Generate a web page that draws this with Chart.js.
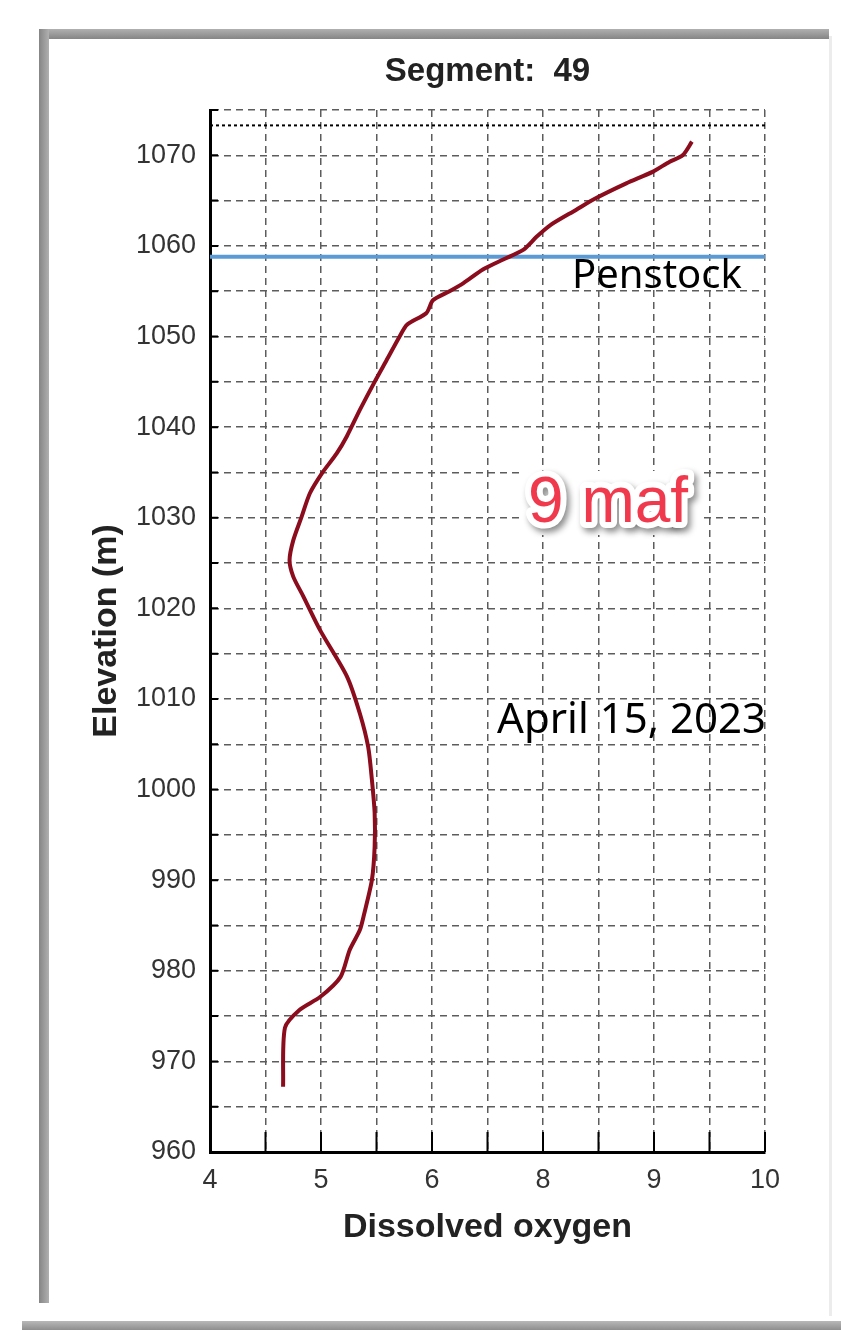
<!DOCTYPE html>
<html>
<head>
<meta charset="utf-8">
<title>Segment 49 - Dissolved oxygen profile</title>
<script src="https://cdn.jsdelivr.net/npm/chart.js@4.4.0/dist/chart.umd.min.js"></script>
<style>
  body { margin: 0; background: #fff; }
  #page { position: relative; width: 841px; height: 1330px; overflow: hidden; background: #fff; }
  .bar { position: absolute; }
  #frameTop { left: 39px; top: 29px; width: 790px; height: 10px; background: linear-gradient(#b0b0b0, #858585); }
  #frameLeft { left: 39px; top: 29px; width: 10px; height: 1274px; background: linear-gradient(90deg, #858585, #b0b0b0); }
  #frameBottom { left: 22px; top: 1321px; width: 819px; height: 9px; background: linear-gradient(#b8b8b8, #8e8e8e); }
  #frameRight { left: 829px; top: 36px; width: 3px; height: 1280px; background: #ececec; }
  #chart { position: absolute; left: 0; top: 0; }
</style>
</head>
<body>
<div id="page">
  <div class="bar" id="frameTop"></div>
  <div class="bar" id="frameLeft"></div>
  <div class="bar" id="frameRight"></div>
  <div class="bar" id="frameBottom"></div>
  <canvas id="chart" width="841" height="1330"></canvas>
</div>
<script>
// ---- profile (top of water column -> bottom) ----
const elevation = [1071.5, 1070.0, 1069.3, 1068.2, 1066.9, 1065.1, 1064.0, 1062.3, 1061.0, 1059.6,
                   1058.5, 1057.4, 1055.9, 1055.0, 1054.0, 1052.6, 1051.3, 1050.0, 1047.4, 1045.0,
                   1041.9, 1039.0, 1037.1, 1034.9, 1032.7, 1030.1, 1027.5, 1025.3, 1023.5, 1021.3,
                   1017.6, 1012.5, 1008.4, 1004.7, 1001.1, 997.4, 993.7, 990.0, 986.0, 984.5,
                   982.3, 979.3, 977.1, 975.7, 973.7, 967.2];
const oxygen = [9.21, 9.11, 8.97, 8.79, 8.50, 8.14, 7.96, 7.68, 7.53, 7.39,
                7.17, 6.95, 6.74, 6.59, 6.41, 6.34, 6.13, 6.05, 5.91, 5.78,
                5.62, 5.48, 5.37, 5.21, 5.08, 4.99, 4.90, 4.86, 4.90, 5.01,
                5.19, 5.48, 5.62, 5.71, 5.75, 5.78, 5.78, 5.75, 5.66, 5.62,
                5.51, 5.41, 5.19, 4.97, 4.81, 4.79];

const penstockElev = 1058.8;
const surfaceElev = 1073.3;

// axis ticks (the original axis rounds 5.2, 6.4, 7.6, 8.8 to whole numbers)
const xTicks = [4, 4.6, 5.2, 5.8, 6.4, 7, 7.6, 8.2, 8.8, 9.4, 10];
const xTickLabels = ['4', '', '5', '', '6', '', '8', '', '9', '', '10'];
const yTicks = [960, 965, 970, 975, 980, 985, 990, 995, 1000, 1005, 1010, 1015,
                1020, 1025, 1030, 1035, 1040, 1045, 1050, 1055, 1060, 1065, 1070, 1075];
const yTickLabels = ['960', '', '970', '', '980', '', '990', '', '1000', '', '1010', '',
                     '1020', '', '1030', '', '1040', '', '1050', '', '1060', '', '1070', ''];

const SANS = '"Liberation Sans", Arial, sans-serif';

// short black tick marks on the inside of the left and bottom axes
const innerTicks = {
    id: 'innerTicks',
    afterDraw(chart) {
        const { ctx, chartArea: a, scales: { x, y } } = chart;
        ctx.save();
        ctx.strokeStyle = '#000';
        ctx.lineWidth = 2;
        ctx.beginPath();
        yTicks.forEach(v => {
            const py = y.getPixelForValue(v);
            ctx.moveTo(a.left, py);
            ctx.lineTo(a.left + 8, py);
        });
        xTicks.forEach(v => {
            const px = x.getPixelForValue(v);
            ctx.moveTo(px, a.bottom);
            ctx.lineTo(px, a.bottom - 20);
        });
        ctx.stroke();
        ctx.restore();
    }
};

// text notes pasted on top of the plot
const notes = {
    id: 'notes',
    afterDraw(chart) {
        const ctx = chart.ctx;
        ctx.save();
        ctx.fillStyle = '#000';
        ctx.textBaseline = 'alphabetic';
        ctx.textAlign = 'left';
        ctx.font = '40px "Noto Sans", "Open Sans", sans-serif';
        ctx.fillText('Penstock', 572, 288);
        ctx.textAlign = 'right';
        ctx.font = '42px "Noto Sans", "Open Sans", sans-serif';
        ctx.fillText('April 15, 2023', 766, 733);

        // "9 maf" label with white plate and soft shadow
        ctx.fillStyle = '#fff';
        ctx.fillRect(522, 471, 178, 64);
        ctx.textAlign = 'left';
        ctx.font = '64px ' + SANS;
        ctx.lineJoin = 'round';
        ctx.shadowColor = 'rgba(0,0,0,0.45)';
        ctx.shadowOffsetX = 3;
        ctx.shadowOffsetY = 4;
        ctx.shadowBlur = 6;
        ctx.strokeStyle = '#fff';
        ctx.lineWidth = 12;
        ctx.strokeText('9 maf', 528, 522);
        ctx.shadowColor = 'transparent';
        ctx.fillStyle = '#f0394d';
        ctx.fillText('9 maf', 528, 522);
        ctx.restore();
    }
};

const gridOpts = { color: '#5c5c5c', lineWidth: 1.5, drawTicks: false };
const borderOpts = { display: true, color: '#000', width: 3, dash: [7, 5] };
const tickFont = { family: SANS, size: 27 };

new Chart(document.getElementById('chart'), {
    type: 'scatter',
    data: {
        datasets: [
            {
                label: 'Dissolved oxygen',
                data: oxygen.map((v, i) => ({ x: v, y: elevation[i] })),
                showLine: true,
                borderColor: '#8b0c1c',
                borderWidth: 4,
                pointRadius: 0,
                tension: 0.25,
                order: 0,
            },
            {
                label: 'Penstock',
                data: [{ x: 4, y: penstockElev }, { x: 10, y: penstockElev }],
                showLine: true,
                borderColor: '#5b9bd5',
                borderWidth: 4,
                pointRadius: 0,
                order: 1,
            },
            {
                label: 'Surface',
                data: [{ x: 4, y: surfaceElev }, { x: 10, y: surfaceElev }],
                showLine: true,
                borderColor: '#000',
                borderWidth: 2,
                borderDash: [3, 3],
                pointRadius: 0,
                order: 2,
            },
        ],
    },
    options: {
        responsive: false,
        animation: false,
        layout: { padding: { left: 0, right: 76, top: 0, bottom: 0 } },
        plugins: {
            legend: { display: false },
            tooltip: { enabled: false },
            title: {
                display: true,
                text: 'Segment:  49',
                fullSize: false,
                color: '#222',
                font: { family: SANS, size: 33, weight: 'bold' },
                padding: { top: 52, bottom: 18.4 },
            },
        },
        scales: {
            x: {
                type: 'linear', min: 4, max: 10,
                afterBuildTicks: s => { s.ticks = xTicks.map(v => ({ value: v })); },
                afterFit: s => { s.height = 178; },
                ticks: { autoSkip: false, maxRotation: 0, padding: 12, color: '#333', font: tickFont,
                         callback: (v, i) => xTickLabels[i] },
                grid: gridOpts,
                border: borderOpts,
                title: { display: true, text: 'Dissolved oxygen', color: '#222',
                         font: { family: SANS, size: 34, weight: 'bold' }, padding: { top: 0, bottom: 82 } },
            },
            y: {
                type: 'linear', min: 960, max: 1075,
                afterBuildTicks: s => { s.ticks = yTicks.map(v => ({ value: v })); },
                afterFit: s => { s.width = 210; },
                ticks: { autoSkip: false, padding: 14, color: '#333', font: tickFont,
                         callback: (v, i) => yTickLabels[i] },
                grid: gridOpts,
                border: borderOpts,
                title: { display: true, text: 'Elevation (m)', color: '#222',
                         font: { family: SANS, size: 34, weight: 'bold' }, padding: { top: 86, bottom: 0 } },
            },
        },
    },
    plugins: [innerTicks, notes],
});
</script>
</body>
</html>
